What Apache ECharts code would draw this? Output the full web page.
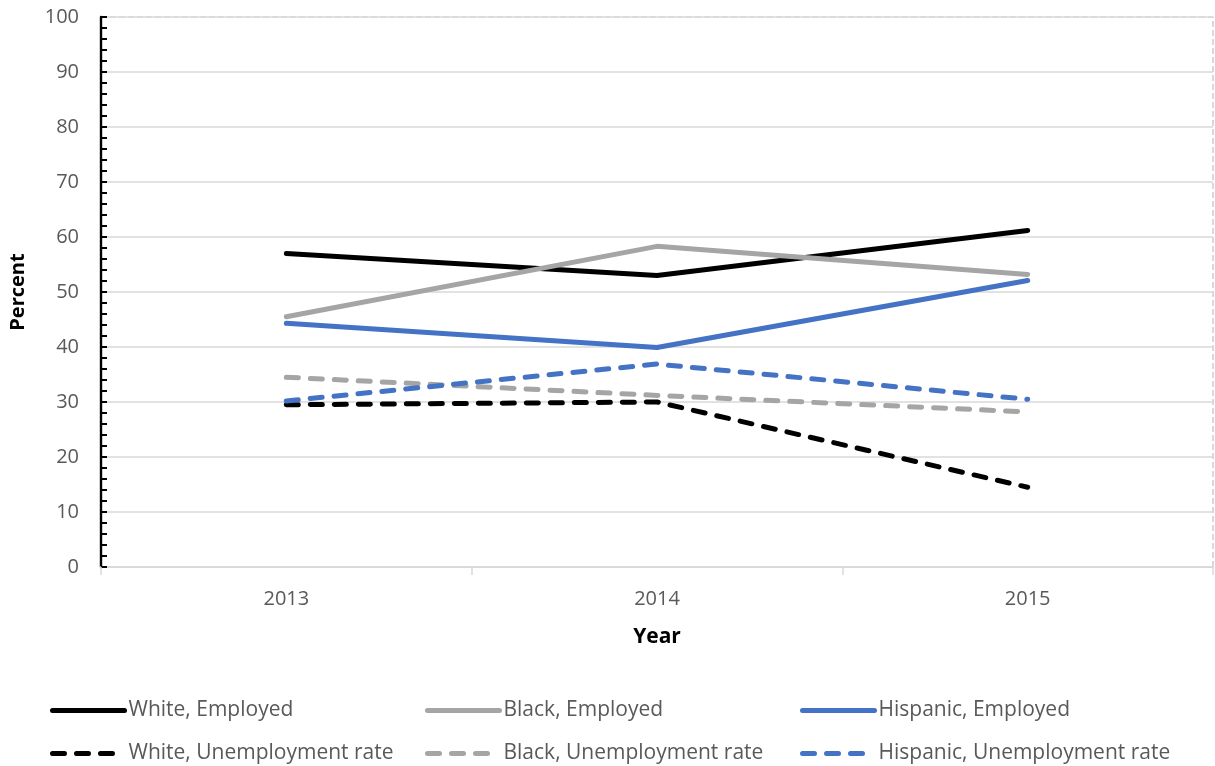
<!DOCTYPE html>
<html>
<head>
<meta charset="utf-8">
<script src="https://cdn.jsdelivr.net/npm/echarts@6/dist/echarts.min.js"></script>
<style>
  html, body { margin: 0; padding: 0; background: #fff; }
  #chart { width: 1215px; height: 766px; }
</style>
</head>
<body>
<div id="chart"></div>
<script>
// Employment and unemployment by group, 2013-2015 (percent)
const years = ['2013', '2014', '2015'];
const whiteEmployed = [57.0, 53.0, 61.2];
const blackEmployed = [45.5, 58.3, 53.2];
const hispanicEmployed = [44.3, 39.9, 52.1];
const whiteUnemployment = [29.5, 30.0, 14.5];
const blackUnemployment = [34.5, 31.2, 28.2];
const hispanicUnemployment = [30.2, 36.9, 30.5];

const FONT = '"Open Sans", "Liberation Sans", sans-serif';
const BLACK = '#000000';
const GRAY = '#a5a5a5';
const BLUE = '#4472c4';
const DASH = [12, 12];
const LINE_W = 5;

function lineSeries(name, data, color, dashed) {
  return {
    name: name,
    type: 'line',
    data: data,
    symbol: 'none',
    z: dashed ? 3 : 4,
    lineStyle: {
      color: color,
      width: LINE_W,
      type: dashed ? DASH : 'solid',
      cap: 'round',
      join: 'round'
    },
    itemStyle: { color: color }
  };
}

const series = [
  lineSeries('White, Unemployment rate', whiteUnemployment, BLACK, true),
  lineSeries('Black, Unemployment rate', blackUnemployment, GRAY, true),
  lineSeries('Hispanic, Unemployment rate', hispanicUnemployment, BLUE, true),
  lineSeries('White, Employed', whiteEmployed, BLACK, false),
  lineSeries('Black, Employed', blackEmployed, GRAY, false),
  lineSeries('Hispanic, Employed', hispanicEmployed, BLUE, false)
];

// legend laid out as a 3 x 2 table
const legendSlots = [
  ['White, Employed', 50, 700],
  ['Black, Employed', 425, 700],
  ['Hispanic, Employed', 800, 700],
  ['White, Unemployment rate', 50, 743],
  ['Black, Unemployment rate', 425, 743],
  ['Hispanic, Unemployment rate', 800, 743]
];
const legends = legendSlots.map(([name, x, y]) => ({
  data: [name],
  left: x,
  top: y,
  orient: 'horizontal',
  itemWidth: 72,
  itemHeight: 4,
  itemGap: 0,
  selectedMode: false,
  padding: 0,
  itemStyle: { opacity: 0 },
  lineStyle: { width: LINE_W, cap: 'round' },
  textStyle: { fontFamily: FONT, fontSize: 21, color: '#595959', padding: [0, 0, 0, -1] }
}));

const chart = echarts.init(document.getElementById('chart'), null, { renderer: 'canvas' });
chart.setOption({
  backgroundColor: '#ffffff',
  animation: false,
  grid: {
    left: 101, right: 2, top: 17, bottom: 199,
    show: true,
    borderColor: '#bfbfbf',
    borderWidth: 1.2,
    borderType: [6, 3],
    containLabel: false,
    outerBoundsMode: 'none'
  },
  legend: legends,
  xAxis: {
    type: 'category',
    data: years,
    boundaryGap: true,
    name: 'Year',
    nameLocation: 'middle',
    nameGap: 60,
    nameTextStyle: { fontFamily: FONT, fontSize: 21, fontWeight: 'bold', color: '#000' },
    axisLine: { show: true, lineStyle: { color: '#d9d9d9', width: 2 } },
    axisTick: { show: true, alignWithLabel: false, length: 8, lineStyle: { color: '#d9d9d9', width: 1.5 } },
    axisLabel: { fontFamily: FONT, fontSize: 20, color: '#595959', margin: 22 },
    splitLine: { show: false }
  },
  yAxis: {
    type: 'value',
    min: 0,
    max: 100,
    interval: 10,
    name: 'Percent',
    nameLocation: 'middle',
    nameGap: 73,
    nameRotate: 90,
    nameTextStyle: { fontFamily: FONT, fontSize: 20, fontWeight: 'bold', color: '#000' },
    axisLine: { show: true, lineStyle: { color: '#000', width: 2.4 } },
    axisTick: { show: true, inside: true, length: 6, lineStyle: { color: '#000', width: 2 } },
    minorTick: { show: true, splitNumber: 5, length: 6, lineStyle: { color: '#000', width: 2 } },
    axisLabel: { fontFamily: FONT, fontSize: 20, color: '#595959', margin: 22 },
    splitLine: { show: true, lineStyle: { color: '#d9d9d9', width: 1.5 } }
  },
  series: series
});
</script>
</body>
</html>
